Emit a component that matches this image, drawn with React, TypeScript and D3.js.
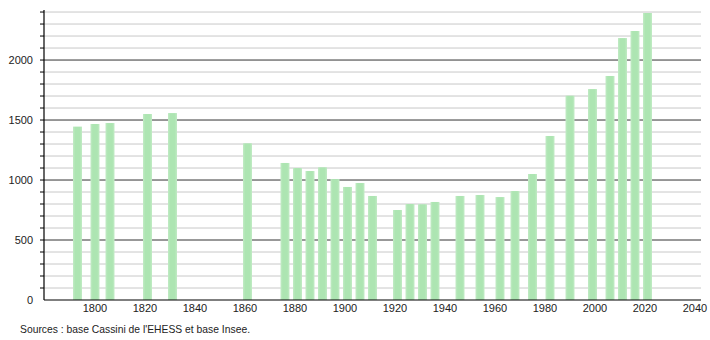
import React from "react";
import * as d3 from "d3";

const years = [1793, 1800, 1806, 1821, 1831, 1861, 1876, 1881, 1886, 1891, 1896, 1901, 1906, 1911, 1921, 1926, 1931, 1936, 1946, 1954, 1962, 1968, 1975, 1982, 1990, 1999, 2006, 2011, 2016, 2021];
const population = [1445, 1467, 1475, 1550, 1558, 1306, 1142, 1100, 1075, 1106, 1008, 942, 975, 867, 750, 800, 798, 817, 867, 875, 858, 908, 1050, 1367, 1703, 1758, 1867, 2183, 2242, 2392];
const xTicks = [1800, 1820, 1840, 1860, 1880, 1900, 1920, 1940, 1960, 1980, 2000, 2020, 2040];
const yTicks = [0, 500, 1000, 1500, 2000];
const sourceText = "Sources : base Cassini de l'EHESS et base Insee.";

export default function App() {
  const W = 710, H = 340;
  const x = d3.scaleLinear().domain([1800, 2040]).range([95, 695]);
  const y = d3.scaleLinear().domain([0, 2417]).range([300, 10]);
  const left = 44, right = 701;
  const minor = d3.range(100, 2401, 100);
  const barW = 9;
  const font = "'Liberation Sans', Arial, sans-serif";
  return (
    <svg width={W} height={H} style={{ position: "absolute", left: 0, top: 0, background: "#fff" }}>
      <defs>
        <linearGradient id="bar" x1="0" x2="1" y1="0" y2="0">
          <stop offset="0" stopColor="#c2ebc5" />
          <stop offset="0.25" stopColor="#ade5b2" />
          <stop offset="0.75" stopColor="#ade5b2" />
          <stop offset="1" stopColor="#c2ebc5" />
        </linearGradient>
      </defs>
      {minor.map((v) => (
        <line key={"g" + v} x1={left} x2={right} y1={y(v)} y2={y(v)}
          stroke={v % 500 === 0 ? "#333" : "#c8c8c8"} strokeWidth={1} />
      ))}
      {years.map((yr, i) => (
        <rect key={yr} x={x(yr) - barW / 2} y={y(population[i])} width={barW}
          height={y(0) - y(population[i])} fill="url(#bar)" />
      ))}
      <line x1={left} x2={left} y1={10} y2={300} stroke="#000" strokeWidth={1.2} />
      <line x1={left} x2={right} y1={300} y2={300} stroke="#000" strokeWidth={1.2} />
      {minor.map((v) => (
        <line key={"t" + v} x1={left - 4} x2={left} y1={y(v)} y2={y(v)} stroke="#000" strokeWidth={1} />
      ))}
      {yTicks.map((v) => (
        <text key={"y" + v} x={33} y={y(v) + 4} textAnchor="end" fontSize={11} fontFamily={font} fill="#222">{v}</text>
      ))}
      {xTicks.map((v) => (
        <text key={"x" + v} x={x(v)} y={312} textAnchor="middle" fontSize={11} fontFamily={font} fill="#222">{v}</text>
      ))}
      <text x={20} y={333} fontSize={11} textLength={230} lengthAdjust="spacingAndGlyphs" fontFamily={font} fill="#222">{sourceText}</text>
    </svg>
  );
}
